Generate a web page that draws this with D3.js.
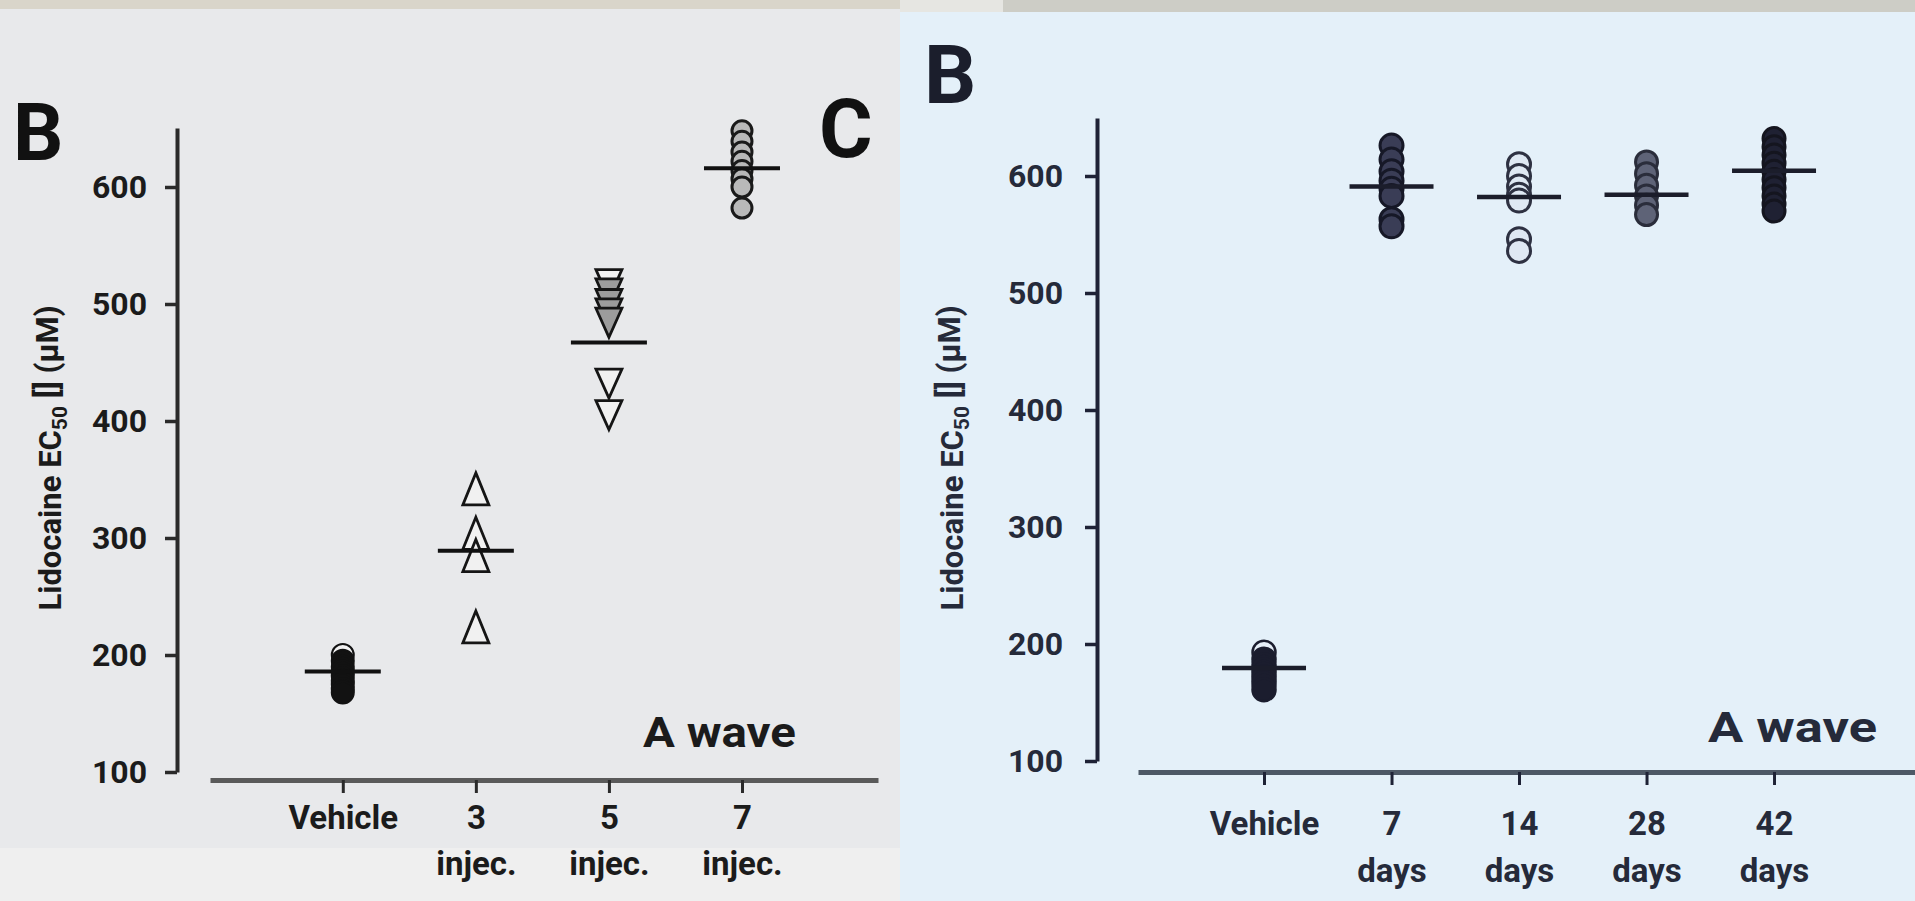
<!DOCTYPE html>
<html><head><meta charset="utf-8">
<script src="https://cdn.jsdelivr.net/npm/d3@7"></script>
<style>
html,body{margin:0;padding:0;background:#e8e9eb;overflow:hidden}
svg{display:block}
text{font-family:Roboto,"Open Sans","Liberation Sans",sans-serif}
</style></head><body>
<svg id="chart" width="1915" height="901"></svg>
<script>
// ================= DATA =================
const yTickValues = [100, 200, 300, 400, 500, 600];

// Left panel (injections)
const leftCategories = ["Vehicle", "3 injec.", "5 injec.", "7 injec."];
const leftLabelLine1 = ["Vehicle", "3", "5", "7"];
const leftLabelLine2 = ["", "injec.", "injec.", "injec."];
const leftVehicle = [200, 195, 190, 186, 182, 178, 175, 171, 168];
const left3Injec  = [342, 304, 285, 224];
const left5Injec  = [517, 509, 500, 492, 484, 432, 405];
const left7Injec  = [648, 639, 630, 622, 614, 607, 600, 582];
const leftMeans   = [186, 289, 467, 616];

// Right panel (days)
const rightCategories = ["Vehicle", "7 days", "14 days", "28 days", "42 days"];
const rightLabelLine1 = ["Vehicle", "7", "14", "28", "42"];
const rightLabelLine2 = ["", "days", "days", "days", "days"];
const rightVehicle = [193, 187, 182, 178, 174, 170, 166, 161];
const right7Days   = [626, 614, 604, 596, 589, 583, 563, 557];
const right14Days  = [610, 600, 591, 584, 579, 546, 536];
const right28Days  = [612, 602, 592, 583, 575, 567];
const right42Days  = [632, 625, 618, 611, 604, 597, 590, 583, 576, 570];
const rightMeans   = [179.5, 591, 582, 584, 604.5];

const panelLetters = ["B", "C", "B"];
const cornerLabel = "A wave";

// ================= DRAWING =================
const svg = d3.select("#chart");

// paper backgrounds
svg.append("rect").attr("x",0).attr("y",0).attr("width",900).attr("height",901).attr("fill","#e8e9eb");
svg.append("rect").attr("x",0).attr("y",848).attr("width",900).attr("height",53).attr("fill","#efefef");
svg.append("rect").attr("x",0).attr("y",0).attr("width",900).attr("height",9).attr("fill","#d9d5ca");
svg.append("rect").attr("x",900).attr("y",0).attr("width",1015).attr("height",901).attr("fill","#e4f0f9");
svg.append("rect").attr("x",900).attr("y",0).attr("width",1015).attr("height",12).attr("fill","#cdcdc6");
svg.append("rect").attr("x",900).attr("y",0).attr("width",103).attr("height",12).attr("fill","#e6e6e2");

function triangleType(w, h, down) {
  return {
    draw(ctx) {
      if (down) {
        ctx.moveTo(-w/2, -h/2); ctx.lineTo(w/2, -h/2); ctx.lineTo(0, h/2);
      } else {
        ctx.moveTo(0, -h/2); ctx.lineTo(w/2, h/2); ctx.lineTo(-w/2, h/2);
      }
      ctx.closePath();
    }
  };
}

function drawPanel(cfg) {
  const g = svg.append("g");
  const y = d3.scaleLinear()
    .domain([100, cfg.yTop])
    .range([cfg.y100, cfg.y100 - (cfg.yTop - 100) * cfg.pxPerUnit]);
  const x = d3.scalePoint()
    .domain(cfg.categories)
    .range(cfg.xRange)
    .padding(cfg.xPad)
    .align(cfg.xAlign);

  // y axis
  const ya = g.append("g")
    .attr("transform", `translate(${cfg.yAxisX},0)`)
    .call(d3.axisLeft(y).tickValues(yTickValues).tickSize(12).tickSizeOuter(0).tickPadding(cfg.yTickPad));
  ya.select(".domain").attr("stroke", cfg.axisColor).attr("stroke-width", 4);
  ya.selectAll(".tick line").attr("stroke", cfg.axisColor).attr("stroke-width", 3.5);
  ya.selectAll(".tick text").attr("fill", cfg.textColor)
    .style("font-size", "32px").style("font-weight", "bold");

  // x axis
  const xa = g.append("g")
    .attr("transform", `translate(0,${cfg.xAxisY})`)
    .call(d3.axisBottom(x).tickSize(13).tickSizeOuter(0));
  xa.select(".domain").attr("stroke", cfg.xAxisColor).attr("stroke-width", 5);
  xa.selectAll(".tick line").attr("stroke", cfg.axisColor).attr("stroke-width", 3);
  xa.selectAll(".tick text").each(function(d, i) {
    const t = d3.select(this);
    t.text(null).attr("y", cfg.xLabelDy).attr("dy", "0.35em").attr("fill", cfg.textColor)
      .style("font-size", "33px").style("font-weight", "bold");
    t.append("tspan").attr("x", 0).text(cfg.line1[i]);
    if (cfg.line2[i]) t.append("tspan").attr("x", 0).attr("dy", cfg.xLine2Gap).text(cfg.line2[i]);
  });

  // y axis title
  const title = g.append("text")
    .attr("transform", `translate(${cfg.titleX},${cfg.titleY}) rotate(-90)`)
    .attr("text-anchor", "middle").attr("dy", "0.35em")
    .attr("fill", cfg.textColor)
    .style("font-size", "31px").style("font-weight", "bold");
  title.append("tspan").text("Lidocaine EC");
  title.append("tspan").attr("dy", "0.3em").style("font-size", "21px").text("50");
  title.append("tspan").attr("dy", "-0.3em").text(" [] (\u03bcM)");

  // points
  cfg.series.forEach((vals, gi) => {
    const st = cfg.styles[gi];
    const cx = x(cfg.categories[gi]);
    const mean = cfg.means[gi];
    vals.forEach((v, vi) => {
      const open = (st.openFirst && vi === 0) || (st.openBelowMean && v < mean);
      const fill = open ? st.openFill : st.fill;
      if (st.shape === "circle") {
        g.append("circle").attr("cx", cx).attr("cy", y(v)).attr("r", st.r)
          .attr("fill", fill).attr("stroke", st.stroke).attr("stroke-width", st.sw);
      } else {
        const p = d3.symbol().type(triangleType(st.w, st.h, st.shape === "down"))();
        g.append("path").attr("d", p).attr("transform", `translate(${cx},${y(v)})`)
          .attr("fill", fill).attr("stroke", st.stroke).attr("stroke-width", st.sw)
          .attr("stroke-linejoin", "miter");
      }
    });
  });

  // mean lines
  cfg.means.forEach((m, gi) => {
    const cx = x(cfg.categories[gi]);
    g.append("line")
      .attr("x1", cx - cfg.meanW / 2).attr("x2", cx + cfg.meanW / 2)
      .attr("y1", y(m)).attr("y2", y(m))
      .attr("stroke", cfg.meanColor).attr("stroke-width", cfg.meanSW);
  });

  // corner label
  g.append("text").attr("x", cfg.waveX).attr("y", cfg.waveY)
    .attr("fill", cfg.textColor).attr("textLength", cfg.waveLen).attr("lengthAdjust", "spacingAndGlyphs")
    .style("font-size", "42px").style("font-weight", "bold").text(cornerLabel);
}

drawPanel({
  categories: leftCategories, line1: leftLabelLine1, line2: leftLabelLine2,
  series: [leftVehicle, left3Injec, left5Injec, left7Injec], means: leftMeans,
  y100: 772, pxPerUnit: 1.17, yTop: 650.4, yAxisX: 177, yTickPad: 18,
  xRange: [210, 878], xPad: 1.01, xAlign: 0.494, xAxisY: 780,
  xLabelDy: 37, xLine2Gap: 46,
  axisColor: "#2a2a2a", xAxisColor: "#5a5a5a", textColor: "#1b1b1b",
  titleX: 50, titleY: 458,
  meanW: 76, meanSW: 4, meanColor: "#111",
  waveX: 643, waveY: 747, waveLen: 153,
  styles: [
    {shape: "circle", r: 11, fill: "#121212", stroke: "#121212", sw: 2, openFirst: true, openFill: "#f2f2f2"},
    {shape: "up", w: 26, h: 32, fill: "#f1f1f1", stroke: "#151515", sw: 2.8},
    {shape: "down", w: 26, h: 29, fill: "#9c9c9c", stroke: "#151515", sw: 2.8, openFirst: true, openBelowMean: true, openFill: "#f1f1f1"},
    {shape: "circle", r: 10, fill: "#b9b9b9", stroke: "#1a1a1a", sw: 3}
  ]
});

drawPanel({
  categories: rightCategories, line1: rightLabelLine1, line2: rightLabelLine2,
  series: [rightVehicle, right7Days, right14Days, right28Days, right42Days], means: rightMeans,
  y100: 761, pxPerUnit: 1.17, yTop: 649.6, yAxisX: 1097, yTickPad: 22,
  xRange: [1138, 1915], xPad: 1.047, xAlign: 0.472, xAxisY: 772,
  xLabelDy: 51, xLine2Gap: 47,
  axisColor: "#1e2236", xAxisColor: "#4d5866", textColor: "#252a3a",
  titleX: 952, titleY: 458,
  meanW: 84, meanSW: 4.5, meanColor: "#1b1d2b",
  waveX: 1708, waveY: 742, waveLen: 169,
  styles: [
    {shape: "circle", r: 11.5, fill: "#1b1d2e", stroke: "#1b1d2e", sw: 2.5, openFirst: true, openFill: "#e6eff8"},
    {shape: "circle", r: 11.5, fill: "#3a3d56", stroke: "#161827", sw: 3},
    {shape: "circle", r: 11.5, fill: "#dfe8f3", stroke: "#2e3142", sw: 3},
    {shape: "circle", r: 11, fill: "#5e6377", stroke: "#2a2d3b", sw: 3},
    {shape: "circle", r: 11, fill: "#1f2133", stroke: "#14151f", sw: 3}
  ]
});

// panel letters
svg.append("text").attr("x", 13).attr("y", 160).attr("fill", "#111")
  .style("font-size", "79px").style("font-weight", "bold").text(panelLetters[0]);
svg.append("text").attr("x", 819).attr("y", 157).attr("fill", "#111")
  .style("font-size", "82px").style("font-weight", "bold").text(panelLetters[1]);
svg.append("text").attr("x", 924).attr("y", 103).attr("fill", "#1b1e2c")
  .style("font-size", "82px").style("font-weight", "bold").text(panelLetters[2]);
</script>
</body></html>
